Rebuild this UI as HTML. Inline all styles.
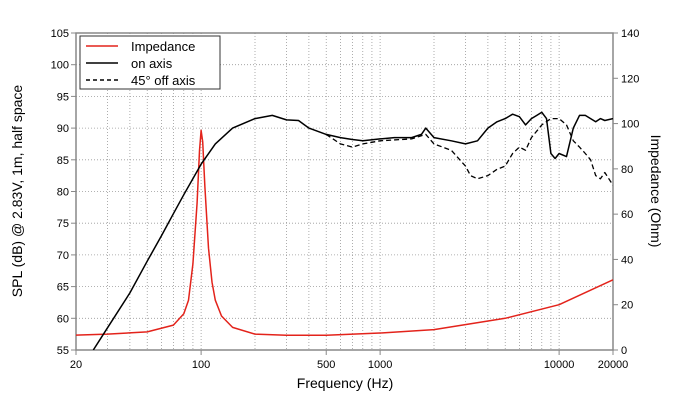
<!DOCTYPE html>
<html><head><meta charset="utf-8"><style>
html,body{margin:0;padding:0;background:#fff;}
svg text{font-family:"Liberation Sans",sans-serif;fill:#000;}
</style></head><body>
<svg id="c" width="689" height="413" xmlns="http://www.w3.org/2000/svg">
<g id="grid"></g>
<g id="axes"></g>
<g id="series"></g>
<text x="345" y="388" font-size="14" text-anchor="middle">Frequency (Hz)</text>
<text transform="translate(22,191) rotate(-90)" font-size="14" text-anchor="middle">SPL (dB) @ 2.83V, 1m, half space</text>
<text transform="translate(651,191) rotate(90)" font-size="14" text-anchor="middle">Impedance (Ohm)</text>
<g>
<rect x="80" y="36" width="140" height="53" fill="#fff" stroke="#333" stroke-width="1"/>
<g><line x1="86" y1="46" x2="118" y2="46" stroke="#e3231b" stroke-width="1.5"/><text x="131" y="51" font-size="13">Impedance</text></g>
<g><line x1="86" y1="63" x2="118" y2="63" stroke="#000" stroke-width="1.5"/><text x="131" y="68" font-size="13">on axis</text></g>
<g><line x1="86" y1="80" x2="118" y2="80" stroke="#000" stroke-width="1.5" stroke-dasharray="4,3"/><text x="131" y="85" font-size="13">45° off axis</text></g>
</g>
</svg>
<script>
const onFreq=[25,30,40,50,60,70,80,100,120,150,200,250,300,350,400,500,600,700,800,1000,1200,1500,1700,1800,2000,2500,3000,3500,4000,4500,5000,5500,6000,6500,7000,7500,8000,8500,9000,9500,10000,11000,12000,13000,14000,15000,16000,17000,18000,20000];
const onSpl=[55,58.5,64,69,73,76.5,79.5,84.3,87.5,90,91.5,92,91.3,91.2,90,89,88.5,88.2,88,88.3,88.5,88.5,89,90,88.5,88,87.5,88,90,91,91.5,92.2,91.8,90.5,91.5,92,92.5,91.5,86,85.2,86,85.5,90,92,92,91.5,91,91.5,91.2,91.5];
const offFreq=[500,600,700,800,1000,1500,1800,2000,2500,3000,3200,3500,4000,4500,5000,5500,6000,6500,7000,8000,9000,10000,11000,12000,13000,14000,15000,16000,17000,18000,20000];
const offSpl=[89,87.5,87,87.5,88,88.3,89,87.5,86.5,84,82.5,82,82.5,83.5,84,86,87,86.5,88.5,90.5,91.5,91.5,90.5,88,87,86,85,82.5,82,83,81];
const impFreq=[20,30,50,70,80,85,90,95,98,100,102,105,110,115,120,130,150,200,300,500,1000,2000,5000,10000,20000];
const impOhm=[6.6,7,8,11,16,22,38,65,88,97,92,72,45,30,22,15,10,7,6.5,6.5,7.5,9,14,20,31];
const xTicks=[20,100,500,1000,10000,20000];
const yTicks=[55,60,65,70,75,80,85,90,95,100,105];
const y2Ticks=[0,20,40,60,80,100,120,140];
const L=76,R=613,T=33,B=350;
const NS="http://www.w3.org/2000/svg";
const x=f=>L+(Math.log10(f)-Math.log10(20))/3*(R-L);
const y=d=>B-(d-55)/50*(B-T);
const y2=o=>B-o/140*(B-T);
function mk(tag,attrs,parent){const e=document.createElementNS(NS,tag);for(const k in attrs)e.setAttribute(k,attrs[k]);parent.appendChild(e);return e;}
const grid=document.getElementById('grid'),axes=document.getElementById('axes'),ser=document.getElementById('series');
// vertical gridlines
const minor=[];for(let d=10;d<=10000;d*=10)for(let m=1;m<10;m++){const f=d*m;if(f>=20&&f<=20000)minor.push(f);}
minor.forEach(f=>{const g=mk('line',{x1:x(f),x2:x(f),y1:T,y2:B,stroke:'#999','stroke-width':0.8,'stroke-dasharray':'1,2'},grid);

});
yTicks.forEach(v=>{const g=mk('line',{x1:L,x2:R,y1:y(v),y2:y(v),stroke:'#999','stroke-width':0.8,'stroke-dasharray':'1,2'},grid);

});
mk('rect',{x:L,y:T,width:R-L,height:B-T,fill:'none',stroke:'#888','stroke-width':1.5},axes);
xTicks.forEach(f=>{mk('line',{x1:x(f),x2:x(f),y1:B,y2:B+5,stroke:'#888'},axes);
const t=mk('text',{x:x(f),y:B+18,'font-size':11,'text-anchor':'middle'},axes);t.textContent=f;

});
yTicks.forEach(v=>{mk('line',{x1:L-5,x2:L,y1:y(v),y2:y(v),stroke:'#888'},axes);
const t=mk('text',{x:L-7,y:y(v)+4,'font-size':11,'text-anchor':'end'},axes);t.textContent=v;

});
y2Ticks.forEach(v=>{mk('line',{x1:R,x2:R+5,y1:y2(v),y2:y2(v),stroke:'#888'},axes);
const t=mk('text',{x:R+8,y:y2(v)+4,'font-size':11},axes);t.textContent=v;

});
function line(fs,vs,ys,attrs,name){const pts=fs.map((f,i)=>x(f).toFixed(1)+','+ys(vs[i]).toFixed(1)).join(' ');
const p=mk('polyline',Object.assign({points:pts,fill:'none','stroke-linejoin':'round'},attrs),ser);

}
mk('clipPath',{id:'cp'},ser).appendChild(Object.assign(document.createElementNS(NS,'rect'),{}));
ser.querySelector('#cp rect').setAttribute('x',L);ser.querySelector('#cp rect').setAttribute('y',T);
ser.querySelector('#cp rect').setAttribute('width',R-L);ser.querySelector('#cp rect').setAttribute('height',B-T);
ser.setAttribute('clip-path','url(#cp)');
line(impFreq,impOhm,y2,{stroke:'#e3231b','stroke-width':1.5},'impedance-line');
line(offFreq,offSpl,y,{stroke:'#000','stroke-width':1.3,'stroke-dasharray':'5,3'},'off-axis-line');
line(onFreq,onSpl,y,{stroke:'#000','stroke-width':1.5},'on-axis-line');
</script>
</body></html>
